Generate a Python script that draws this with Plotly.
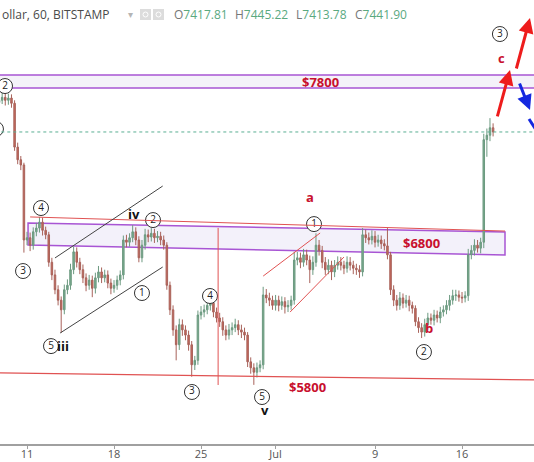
import pandas as pd
import plotly.graph_objects as go

first_open = 7640
closes = [
    7655, 7675, 7655, 7670, 7635, 7340, 7255, 7220, 6715, 6730,
    6680, 6770, 6795, 6835, 6780, 6750, 6565, 6480, 6380, 6310,
    6245, 6380, 6410, 6515, 6635, 6565, 6515, 6460, 6410, 6445,
    6390, 6460, 6500, 6460, 6480, 6425, 6390, 6410, 6445, 6480,
    6715, 6700, 6730, 6770, 6715, 6595, 6680, 6750, 6735, 6760,
    6730, 6740, 6715, 6680, 6410, 6245, 6110, 6010, 6145, 6110,
    6075, 6010, 5875, 5905, 6210, 6230, 6245, 6275, 6290, 6230,
    6190, 6165, 6110, 6075, 6110, 6125, 6145, 6110, 6095, 6075,
    5895, 5855, 5825, 5855, 5875, 6345, 6325, 6310, 6275, 6310,
    6275, 6300, 6265, 6275, 6310, 6580, 6595, 6565, 6615, 6580,
    6515, 6565, 6680, 6645, 6565, 6515, 6545, 6500, 6545, 6565,
    6545, 6525, 6565, 6545, 6525, 6515, 6500, 6750, 6730, 6715,
    6740, 6700, 6715, 6690, 6675, 6615, 6380, 6310, 6275, 6325,
    6290, 6310, 6275, 6255, 6165, 6125, 6095, 6145, 6190, 6175,
    6210, 6190, 6230, 6245, 6275, 6310, 6340, 6345, 6330, 6325,
    6340, 6615, 6645, 6680, 6660, 6700, 7390, 7420, 7470, 7442,
]
up_wicks = [
    30, 35, 30, 30, 25, 20, 30, 25, 15, 40,
    35, 30, 35, 35, 30, 25, 20, 30, 35, 30,
    25, 35, 40, 40, 35, 30, 30, 35, 30, 35,
    30, 35, 40, 30, 35, 30, 30, 35, 30, 30,
    30, 35, 30, 45, 30, 25, 35, 40, 35, 35,
    30, 35, 30, 30, 20, 25, 30, 30, 40, 35,
    30, 30, 25, 30, 30, 40, 35, 40, 40, 30,
    30, 35, 30, 30, 40, 35, 40, 30, 35, 30,
    20, 30, 30, 35, 30, 55, 40, 35, 30, 35,
    30, 35, 30, 35, 30, 55, 40, 35, 40, 35,
    30, 40, 80, 35, 30, 35, 40, 30, 35, 40,
    35, 30, 40, 35, 30, 30, 30, 45, 35, 35,
    40, 35, 35, 30, 30, 120, 20, 30, 35, 40,
    30, 35, 30, 25, 20, 30, 30, 40, 35, 30,
    35, 30, 35, 30, 35, 35, 40, 35, 30, 35,
    30, 40, 35, 40, 35, 30, 40, 45, 65, 30,
]
down_wicks = [
    30, 25, 35, 30, 30, 25, 30, 35, 85, 35,
    40, 30, 30, 30, 35, 30, 30, 35, 30, 35,
    155, 30, 30, 30, 30, 35, 30, 35, 40, 30,
    60, 35, 30, 35, 30, 35, 40, 30, 30, 35,
    30, 35, 30, 30, 35, 30, 30, 30, 35, 30,
    35, 30, 35, 30, 30, 35, 40, 105, 35, 40,
    35, 40, 80, 35, 30, 30, 35, 30, 35, 35,
    30, 35, 40, 35, 30, 35, 30, 35, 40, 35,
    35, 40, 85, 35, 30, 30, 35, 40, 30, 35,
    40, 30, 45, 35, 30, 30, 35, 40, 30, 35,
    90, 35, 30, 35, 40, 35, 30, 55, 35, 30,
    35, 40, 30, 35, 40, 35, 40, 30, 35, 30,
    30, 35, 30, 35, 30, 30, 35, 40, 35, 30,
    35, 30, 40, 35, 30, 35, 40, 30, 35, 30,
    35, 30, 35, 30, 30, 35, 30, 35, 30, 35,
    30, 35, 30, 35, 30, 35, 40, 115, 40, 30,
]

last_price = 7441.90
tick_dates = ["2018-06-11", "2018-06-18", "2018-06-25", "2018-07-01", "2018-07-09", "2018-07-16"]
tick_labels = ["11", "18", "25", "Jul", "9", "16"]

# Elliott wave count markers: (time, price, label)
circled = [
    ("2018-06-09 05:30", 7751, "2"),
    ("2018-06-08 12:00", 7462, ""),
    ("2018-06-12 03:00", 6930, "4"),
    ("2018-06-10 16:20", 6506, "3"),
    ("2018-06-12 22:20", 6001, "5"),
    ("2018-06-21 03:20", 6849, "2"),
    ("2018-06-20 06:00", 6358, "1"),
    ("2018-06-25 17:20", 6338, "4"),
    ("2018-06-24 06:30", 5692, "3"),
    ("2018-06-29 21:50", 5658, "5"),
    ("2018-07-04 02:10", 6822, "1"),
    ("2018-07-12 22:30", 5961, "2"),
    ("2018-07-19 01:10", 8101, "3"),
]
letters = [
    ("2018-06-13 21:30", 6001, "iii", "#111"),
    ("2018-06-19 14:40", 6890, "iv", "#111"),
    ("2018-06-30 03:30", 5571, "v", "#111"),
    ("2018-07-03 18:30", 7004, "a", "#c8102e"),
    ("2018-07-13 08:00", 6123, "b", "#c8102e"),
    ("2018-07-19 05:00", 7940, "c", "#c8102e"),
]
levels = [
    ("2018-07-04 14:00", 7778, "$7800"),
    ("2018-07-12 17:00", 6695, "$6800"),
    ("2018-07-03 13:00", 5725, "$5800"),
]

times = pd.date_range("2018-06-08 18:00", periods=len(closes), freq="6h")
opens = [first_open] + closes[:-1]
highs = [max(o, c) + w for o, c, w in zip(opens, closes, up_wicks)]
lows = [min(o, c) - w for o, c, w in zip(opens, closes, down_wicks)]

PURPLE = "#a855d4"
RED_LINE = "#e05252"
RED_TEXT = "#c8102e"

fig = go.Figure()

fig.add_trace(go.Candlestick(
    x=times, open=opens, high=highs, low=lows, close=closes,
    increasing=dict(line=dict(color="#6c9a80", width=1), fillcolor="#7aaa8e"),
    decreasing=dict(line=dict(color="#a8625a", width=1), fillcolor="#c9685a"),
    whiskerwidth=0, showlegend=False,
))

fig.add_trace(go.Scatter(
    x=[c[0] for c in circled], y=[c[1] for c in circled], text=[c[2] for c in circled],
    mode="markers+text", textposition="middle center",
    marker=dict(size=15, color="white", line=dict(color="#333", width=1)),
    textfont=dict(size=10, color="#222", family="Open Sans"),
    hoverinfo="skip", showlegend=False,
))

shapes = [
    # $7800 zone
    dict(type="rect", x0="2018-06-07", x1="2018-07-24", y0=7738, y1=7825,
         fillcolor="#f4f2f9", line=dict(color=PURPLE, width=1.5), layer="below"),
    # $6800 zone (slightly tilted box); underscores stand in for spaces in path dates
    dict(type="path", layer="below", fillcolor="#f3f1fa", line=dict(color=PURPLE, width=1.5),
         path="M2018-06-11_02:00,6829 L2018-07-19_11:00,6769 L2018-07-19_11:00,6614 "
              "L2018-06-11_02:00,6681 Z"),
    # last price
    dict(type="line", x0="2018-06-07", x1="2018-07-24", y0=last_price, y1=last_price,
         line=dict(color="#5aae92", width=1, dash="dot")),
    # resistance trendline above the $6800 zone
    dict(type="line", x0="2018-06-11 06:00", x1="2018-07-19 11:00", y0=6870, y1=6775,
         line=dict(color=RED_LINE, width=1)),
    # $5800 support
    dict(type="line", x0="2018-06-08 19:50", x1="2018-07-21 19:00", y0=5820, y1=5773,
         line=dict(color=RED_LINE, width=1.2)),
    # vertical marker
    dict(type="line", x0="2018-06-26 09:00", x1="2018-06-26 09:00", y0=6796, y1=5739,
         line=dict(color=RED_LINE, width=1)),
    # wave iii-iv channel
    dict(type="line", x0="2018-06-13 06:00", x1="2018-06-21 22:00", y0=6594, y1=7078,
         line=dict(color="#444", width=1)),
    dict(type="line", x0="2018-06-13 16:00", x1="2018-06-21 22:00", y0=6089, y1=6533,
         line=dict(color="#444", width=1)),
    # wave a channel
    dict(type="line", x0="2018-06-30 00:00", x1="2018-07-04 14:00", y0=6472, y1=6762,
         line=dict(color=RED_LINE, width=1)),
    dict(type="line", x0="2018-07-02 04:00", x1="2018-07-06 12:00", y0=6230, y1=6600,
         line=dict(color=RED_LINE, width=1)),
    # second blue arrow leaving the frame
    dict(type="line", x0="2018-07-21 09:20", x1="2018-07-22 06:30", y0=7529, y1=7415,
         line=dict(color="#1428e0", width=3)),
]

annotations = []
for t, p, s in levels:
    annotations.append(dict(x=t, y=p, text=f"<b>{s}</b>", showarrow=False,
                            font=dict(size=13, color=RED_TEXT, family="Open Sans")))
for t, p, s, col in letters:
    annotations.append(dict(x=t, y=p, text=f"<b>{s}</b>", showarrow=False,
                            font=dict(size=13, color=col, family="Open Sans")))

# projected path arrows
arrows = [
    ("2018-07-18 19:30", 7536, "2018-07-19 20:40", 7859, "#ee1c1c"),
    ("2018-07-20 08:10", 7859, "2018-07-21 11:15", 8209, "#ee1c1c"),
    ("2018-07-20 14:00", 7778, "2018-07-21 11:15", 7590, "#1428e0"),
]
for t0, p0, t1, p1, col in arrows:
    annotations.append(dict(x=t1, y=p1, ax=t0, ay=p0, axref="x", ayref="y", text="",
                            showarrow=True, arrowhead=2, arrowsize=1, arrowwidth=3,
                            arrowcolor=col))

# header line
HY = 1 - 14 / 444
hfont = dict(size=12, color="#4a4a4a", family="Open Sans")
annotations.append(dict(xref="paper", yref="paper", x=0, y=HY, xanchor="left", yanchor="middle",
                        text="ollar, 60, BITSTAMP", showarrow=False, font=hfont))
annotations.append(dict(xref="paper", yref="paper", x=126 / 534, y=HY, xanchor="left", yanchor="middle",
                        text="▾", showarrow=False, font=dict(size=10, color="#b5b5b5")))
for px, letter, val in [(172, "O", "7417.81"), (233, "H", "7445.22"), (294, "L", "7413.78"), (353, "C", "7441.90")]:
    annotations.append(dict(xref="paper", yref="paper", x=px / 534, y=HY, xanchor="left", yanchor="middle",
                            text=f"{letter}<span style='color:#5aa97f'>{val}</span>", showarrow=False,
                            font=dict(size=12, color="#777", family="Open Sans")))
for px in (140, 153):
    shapes.append(dict(type="rect", xref="paper", yref="paper", x0=px / 534, x1=(px + 11) / 534,
                       y0=1 - 20 / 444, y1=1 - 9 / 444, fillcolor="#dcdcdc", line=dict(width=0)))
    shapes.append(dict(type="circle", xref="paper", yref="paper", x0=(px + 3) / 534, x1=(px + 8) / 534,
                       y0=1 - 17 / 444, y1=1 - 12 / 444, fillcolor="#dcdcdc", line=dict(color="white", width=1)))

fig.update_layout(
    width=534, height=462,
    margin=dict(l=0, r=0, t=0, b=18),
    paper_bgcolor="white", plot_bgcolor="white",
    shapes=shapes, annotations=annotations,
    showlegend=False,
    font=dict(family="Open Sans"),
)
fig.update_xaxes(
    type="date", range=["2018-06-08 19:50", "2018-07-21 19:00"],
    rangeslider_visible=False, showgrid=False, zeroline=False,
    showline=True, linecolor="#a0a0a0", linewidth=1.5,
    ticks="outside", ticklen=3, tickcolor="#a0a0a0",
    tickvals=tick_dates, ticktext=tick_labels, ticklabelstandoff=-4,
    tickfont=dict(size=11, color="#555"), automargin=False,
)
fig.update_yaxes(range=[5342, 8330], visible=False, fixedrange=True)

# page body has a default 8px margin; drop it so the chart fills the window
fig.write_html("out.html", config={"displayModeBar": False},
               post_script="document.body.style.margin = '0';")
